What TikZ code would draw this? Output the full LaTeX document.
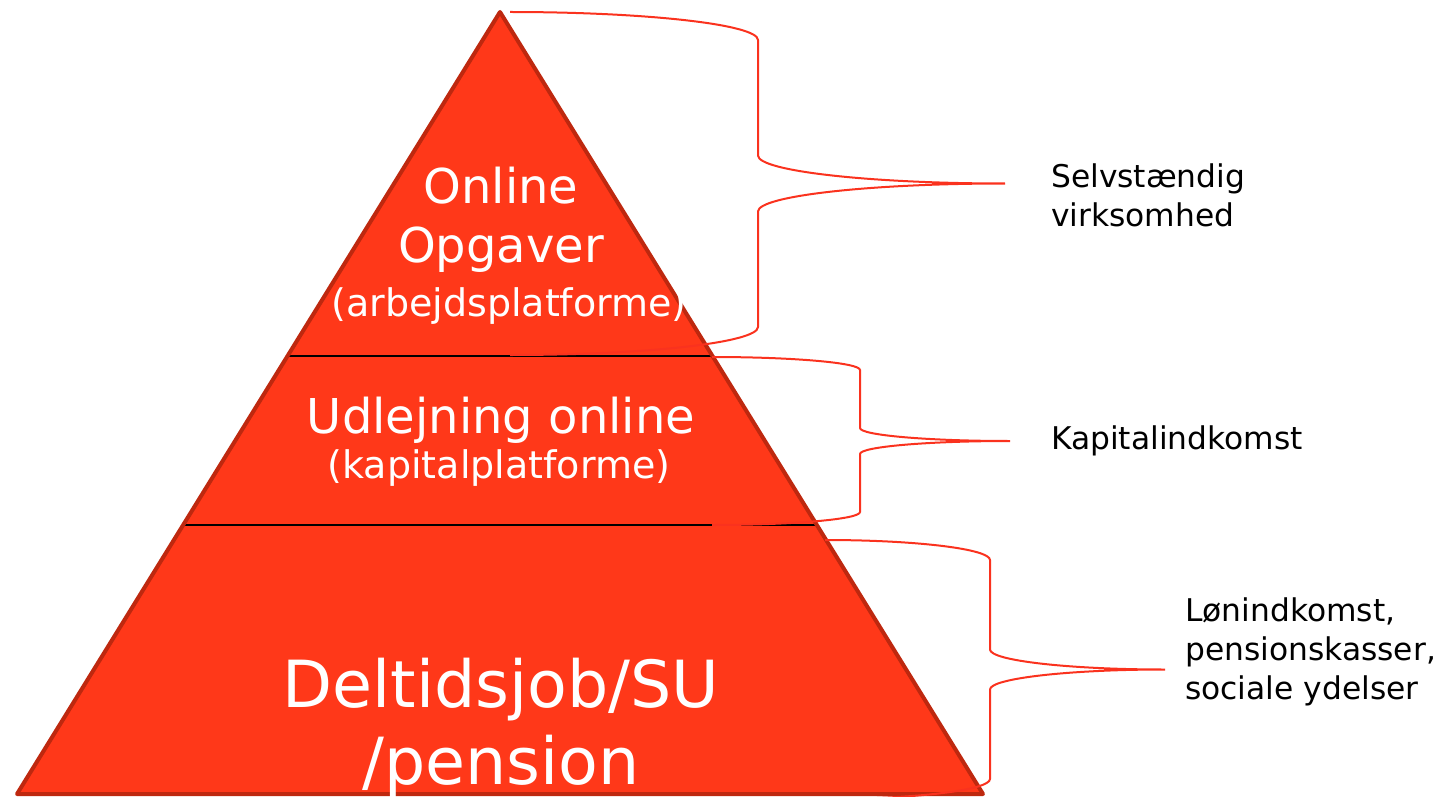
\documentclass[tikz,border=0pt]{standalone}
\usepackage{fontspec}
\setmainfont{DejaVu Sans}
\definecolor{pyrfill}{RGB}{255,56,25}
\definecolor{pyredge}{RGB}{190,40,15}
\definecolor{bracecol}{RGB}{250,50,30}
\newcommand\drawbrace[6]{% xL yT yB xS xR r
 \draw[bracestyle] (#1,#2) .. controls ({#1+0.552*(#4-#1)},#2) and (#4,{#2+0.448*#6}) .. (#4,{#2+#6})
 -- (#4,{(#2+#3)/2-#6}) .. controls (#4,{(#2+#3)/2-0.448*#6}) and ({#5-0.552*(#5-#4)},{(#2+#3)/2}) .. (#5,{(#2+#3)/2})
 .. controls ({#5-0.552*(#5-#4)},{(#2+#3)/2}) and (#4,{(#2+#3)/2+0.448*#6}) .. (#4,{(#2+#3)/2+#6})
 -- (#4,{#3-#6}) .. controls (#4,{#3-0.448*#6}) and ({#1+0.552*(#4-#1)},#3) .. (#1,#3);}
\begin{document}
\begin{tikzpicture}[x=1pt,y=-1pt,
  bracestyle/.style={draw=bracecol, line width=2},
  divider/.style={draw=black, line width=2},
  intext/.style={text=white, inner sep=0, align=center},
  sidetext/.style={text=black, inner sep=0, align=left, anchor=west, font=\fontsize{31.3}{38.8}\selectfont}]
\useasboundingbox (0,0) rectangle (1454,797);
% pyramid
\coordinate (apex) at (500,12);
\coordinate (bl) at (17,794);
\coordinate (br) at (983,794);
\fill[pyrfill] (apex) -- (br) -- (bl) -- cycle;
\coordinate (d1l) at (287,356); \coordinate (d1r) at (713,356);
\coordinate (d2l) at (182,525); \coordinate (d2r) at (818,525);
\draw[divider] (d1l) -- (d1r);
\draw[divider] (d2l) -- (d2r);
\draw[pyredge, line width=4, line join=round] (apex) -- (br) -- (bl) -- cycle;
% texts in pyramid
\node[intext, font=\fontsize{48}{59}\selectfont] (top) at (501,220) {Online\\Opgaver};
\node[intext, font=\fontsize{38}{45}\selectfont] (topsub) at (509,306) {(arbejdsplatforme)};
\node[intext, font=\fontsize{48}{59}\selectfont] (mid) at (501,420) {Udlejning online};
\node[intext, font=\fontsize{38}{45}\selectfont] (midsub) at (499,468) {(kapitalplatforme)};
\node[intext, font=\fontsize{65}{77}\selectfont] (bot) at (501,728) {Deltidsjob/SU\\/pension};
% braces
\drawbrace{510}{12}{355}{758}{1005}{28}
\drawbrace{712}{357}{525}{860}{1010}{13}
\drawbrace{825}{540}{799}{990}{1165}{20}
% side labels
\node[sidetext] (l1) at (1051,195) {Selvstændig\\virksomhed};
\node[sidetext] (l2) at (1051,441) {Kapitalindkomst};
\node[sidetext] (l3) at (1185,652) {Lønindkomst,\\pensionskasser,\\sociale ydelser};
\end{tikzpicture}
\end{document}
